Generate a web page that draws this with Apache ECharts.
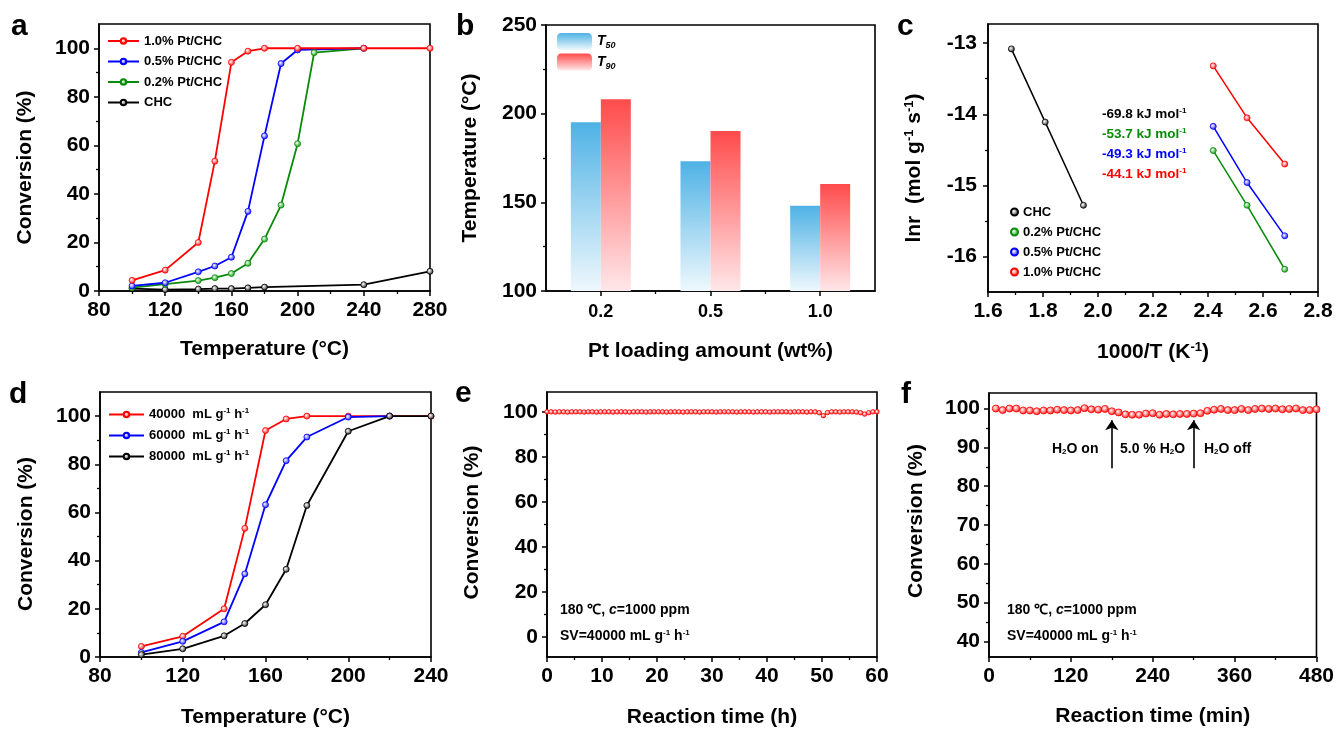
<!DOCTYPE html>
<html><head><meta charset="utf-8">
<script src="https://cdn.jsdelivr.net/npm/echarts@6/dist/echarts.min.js"></script>
<style>html,body{margin:0;padding:0;background:#fff}#chart{width:1337px;height:730px}</style>
</head><body><div id="chart"></div>
<script>
// ================= DATA =================
// (a) light-off curves
const aNames = ['1.0% Pt/CHC','0.5% Pt/CHC','0.2% Pt/CHC','CHC'];
const aTempRed = [100,120,140,150,160,170,180,200,240,280];
const aRed = [4.4,8.6,20,53.5,94.2,98.8,100,100,100,100];
const aTempBlue = [100,120,140,150,160,170,180,190,200,240];
const aBlue = [2.1,3.4,7.9,10.3,13.9,32.8,63.9,93.7,99.3,100];
const aTempGreen = [100,120,140,150,160,170,180,190,200,210,240];
const aGreen = [1.4,2.8,4.3,5.5,7.2,11.4,21.4,35.4,60.7,98.2,100];
const aTempCHC = [100,120,140,150,160,170,180,240,280];
const aCHC = [1.0,0.6,0.8,1.0,1.0,1.3,1.6,2.6,8.1];
const aXTicks = [80,120,160,200,240,280];
const aXMinor = [100,140,180,220,260];
const convTicks = [0,20,40,60,80,100];
const convMinor = [10,30,50,70,90];

// (b) T50 / T90
const bCategories = ['0.2','0.5','1.0'];
const bT50 = [195.1,173.1,148.1];
const bT90 = [208.1,190.2,160.3];
const bYTicks = [100,150,200,250];
const bYMinor = [125,175,225];

// (c) Arrhenius
const cNames = ['CHC ','0.2% Pt/CHC ','0.5% Pt/CHC ','1.0% Pt/CHC '];
const cXCHC = [1.685,1.808,1.947];
const cYCHC = [-13.08,-14.11,-15.28];
const cXPt = [2.419,2.542,2.679];
const cY02 = [-14.51,-15.28,-16.18];
const cY05 = [-14.17,-14.96,-15.71];
const cY10 = [-13.32,-14.05,-14.70];
const cEa = ['-69.8','-53.7','-49.3','-44.1'];
const cXTicks = [1.6,1.8,2.0,2.2,2.4,2.6,2.8];
const cXMinor = [1.7,1.9,2.1,2.3,2.5,2.7];
const cYTicks = [-16,-15,-14,-13];
const cYMinor = [-15.5,-14.5,-13.5];

// (d) space velocity
const dNames = ['40000','60000','80000'];
const dTemps = [100,120,140,150,160,170,180,200,220,240];
const d40000 = [4.4,8.6,20,53.4,94,98.8,100,100,100,100];
const dTemps60 = [100,120,140,150,160,170,180,200,220];
const d60000 = [1.9,6.5,14.6,34.5,63.2,81.5,91.3,99.6,100];
const d80000 = [1.0,3.4,8.8,13.9,21.7,36.4,62.9,93.7,100,100];
const dXTicks = [80,120,160,200,240];
const dXMinor = [100,140,180,220];

// (e) stability 60 h
const eTime = [0,0.75,1.5,2.25,3,3.75,4.5,5.25,6,6.75,7.5,8.25,9,9.75,10.5,11.25,12,12.75,13.5,14.25,
  15,15.75,16.5,17.25,18,18.75,19.5,20.25,21,21.75,22.5,23.25,24,24.75,25.5,26.25,27,27.75,28.5,29.25,
  30,30.75,31.5,32.25,33,33.75,34.5,35.25,36,36.75,37.5,38.25,39,39.75,40.5,41.25,42,42.75,43.5,44.25,
  45,45.75,46.5,47.25,48,48.75,49.5,50.25,51,51.75,52.5,53.25,54,54.75,55.5,56.25,57,57.75,58.5,59.25,60];
const eConv = [100,100,99.9,100,100,99.9,100,100,100,99.9,
  100,100,99.9,100,100,100,99.9,100,100,100,
  99.9,100,100,100,99.9,100,100,100,100,99.9,
  100,100,100,99.9,100,100,100,99.9,100,100,
  100,99.9,100,100,100,100,99.9,100,100,100,
  99.9,100,100,100,99.9,100,100,100,100,99.9,
  100,100,100,99.9,100,100,99.6,98.3,99.7,100,
  100,99.9,100,100,100,99.9,99.6,99.0,99.6,100,
  100];
const eXTicks = [0,10,20,30,40,50,60];
const eXMinor = [5,15,25,35,45,55];

// (f) water resistance
const fTime = [10,20,30,40,50,60,70,80,90,100,110,120,130,140,150,160,170,180,190,200,210,220,230,240,
  250,260,270,280,290,300,310,320,330,340,350,360,370,380,390,400,410,420,430,440,450,460,470,480];
const fConv = [100,99.6,100,100,99.5,99.5,99.3,99.5,99.5,99.7,99.6,99.5,99.6,100.1,99.8,99.7,99.9,99.3,99.0,98.5,98.4,98.4,98.7,98.8,
  98.4,98.6,98.5,98.6,98.6,98.7,98.8,99.4,99.7,99.9,99.6,99.6,99.9,99.6,99.9,100,99.9,100,99.8,99.9,100,99.6,99.6,99.8];
const fArrowTimes = [180,300];
const fArrowFrom = 84.6;
const fArrowTo = 97.0;
const fXTicks = [0,120,240,360,480];
const fXMinor = [60,180,300,420];
const fYTicks = [40,50,60,70,80,90,100];
const fYMinor = [45,55,65,75,85,95];

// ================= STYLE HELPERS =================
const FONT = '"Liberation Sans", Arial, sans-serif';
const BLACK = '#000';
const RED = '#ff0000', BLUE = '#0000ff', GREEN = '#0a8a0a';

function richOpt(size, color) {
  return {
    sup: {fontSize: Math.round(size*0.6), fontWeight:'bold', fontFamily:FONT, color: color||BLACK, verticalAlign:'top', lineHeight: size+2},
    sub: {fontSize: Math.round(size*0.6), fontWeight:'bold', fontFamily:FONT, color: color||BLACK, verticalAlign:'bottom', lineHeight: size+2},
    i: {fontSize: size, fontWeight:'bold', fontStyle:'italic', fontFamily:FONT, color: color||BLACK, lineHeight: size+2}
  };
}
function richG(size, color) {
  return {
    sup: {fontSize: Math.round(size*0.6), fontWeight:'bold', fontFamily:FONT, fill: color, verticalAlign:'top'},
    sub: {fontSize: Math.round(size*0.6), fontWeight:'bold', fontFamily:FONT, fill: color, verticalAlign:'bottom'},
    i: {fontSize: size, fontWeight:'bold', fontStyle:'italic', fontFamily:FONT, fill: color}
  };
}
function ball(color, light) {
  return {type:'radial', x:0.4, y:0.4, r:0.65,
    colorStops:[{offset:0,color:'#ffffff'},{offset:0.45,color:light},{offset:1,color:color}]};
}
const LIGHT = {'#ff0000':'#ff8a8a','#0000ff':'#8a8aff','#0a8a0a':'#7ccf7c','#000':'#999'};

const xAxes = [], yAxes = [];
function axisPair(list, dir, grid, o) {
  const pos = dir === 'x' ? 'bottom' : 'left';
  const main = {
    type:'value', gridIndex:grid, min:o.min, max:o.max, position:pos,
    axisLine:{show:true, onZero:false, lineStyle:{color:BLACK, width:1.6}},
    axisTick:{show:true, customValues:o.ticks, length:5, lineStyle:{color:BLACK, width:1.5}},
    axisLabel:{show:true, customValues:o.ticks, color:BLACK, fontSize:o.labelSize||21, fontWeight:'bold', fontFamily:FONT, margin:o.margin||9},
    splitLine:{show:false},
    name:o.name, nameLocation:'middle', nameGap:o.nameGap,
    nameTextStyle:{color:BLACK, fontSize:21, fontWeight:'bold', fontFamily:FONT, padding:o.namePad||0, rich:richOpt(21)}
  };
  if (o.fmt) main.axisLabel.formatter = o.fmt;
  list.push(main);
  const idx = list.length - 1;
  list.push({
    type:'value', gridIndex:grid, min:o.min, max:o.max, position:pos,
    axisLine:{show:false, onZero:false}, axisLabel:{show:false}, splitLine:{show:false},
    axisTick:{show:true, customValues:o.minor||[], length:3, lineStyle:{color:BLACK, width:1.3}}
  });
  return idx;
}
function pairs(xs, ys) { return xs.map((x,i)=>[x, ys[i]]); }
function lineS(name, xs, ys, color, xi, yi, size, lw) {
  return {type:'line', name, xAxisIndex:xi, yAxisIndex:yi, data:pairs(xs,ys),
    symbol:'circle', symbolSize:size, showSymbol:true, clip:false,
    lineStyle:{color, width:lw||1.8}, itemStyle:{color:ball(color, LIGHT[color]), borderColor:color, borderWidth:0.8}};
}

// ================= GRIDS =================
const gridBase = {show:true, borderColor:BLACK, borderWidth:1.6, backgroundColor:'transparent', containLabel:false};
const grids = [
  Object.assign({left:99, top:24, width:331, height:267}, gridBase),   // a
  Object.assign({left:546, top:25, width:329, height:266}, gridBase),  // b
  Object.assign({left:988, top:24, width:330, height:268}, gridBase),  // c
  Object.assign({left:100, top:392, width:331, height:265}, gridBase), // d
  Object.assign({left:547, top:392, width:330, height:265}, gridBase), // e
  Object.assign({left:989, top:393, width:329, height:264}, gridBase)  // f
];

// (a)
const axA = axisPair(xAxes,'x',0,{min:80,max:280,ticks:aXTicks,minor:aXMinor,name:'Temperature (°C)',nameGap:48});
const ayA = axisPair(yAxes,'y',0,{min:0,max:110,ticks:convTicks,minor:convMinor,name:'Conversion (%)',nameGap:63,namePad:[0,20,0,0]});
// (b) category x
xAxes.push({type:'category', gridIndex:1, data:bCategories, position:'bottom',
  axisLine:{show:true, onZero:false, lineStyle:{color:BLACK, width:1.6}},
  axisTick:{show:true, alignWithLabel:true, length:5, lineStyle:{color:BLACK, width:1.5}},
  axisLabel:{color:BLACK, fontSize:18, fontWeight:'bold', fontFamily:FONT, margin:12},
  name:'Pt loading amount (wt%)', nameLocation:'middle', nameGap:50,
  nameTextStyle:{color:BLACK, fontSize:21, fontWeight:'bold', fontFamily:FONT}});
const axB = xAxes.length-1;
xAxes.push({type:'value', gridIndex:1, min:0, max:3, position:'bottom', axisLine:{show:false,onZero:false}, axisLabel:{show:false}, splitLine:{show:false},
  axisTick:{show:true, customValues:[1,2], length:3, lineStyle:{color:BLACK, width:1.3}}});
const ayB = axisPair(yAxes,'y',1,{min:100,max:250,ticks:bYTicks,minor:bYMinor,name:'Temperature (°C)',nameGap:65});
// (c)
const axC = axisPair(xAxes,'x',2,{min:1.6,max:2.8,ticks:cXTicks,minor:cXMinor,name:'1000/T (K{sup|-1})',nameGap:49,fmt:v=>Number(v).toFixed(1)});
const ayC = axisPair(yAxes,'y',2,{min:-16.5,max:-12.73,ticks:cYTicks,minor:cYMinor,name:'lnr  (mol g{sup|-1} s{sup|-1})',nameGap:62,margin:11,namePad:[0,20,0,0]});
// (d)
const axD = axisPair(xAxes,'x',3,{min:80,max:240,ticks:dXTicks,minor:dXMinor,name:'Temperature (°C)',nameGap:50});
const ayD = axisPair(yAxes,'y',3,{min:0,max:110,ticks:convTicks,minor:convMinor,name:'Conversion (%)',nameGap:63,namePad:[0,19,0,0]});
// (e)
const axE = axisPair(xAxes,'x',4,{min:0,max:60,ticks:eXTicks,minor:eXMinor,name:'Reaction time (h)',nameGap:50});
const ayE = axisPair(yAxes,'y',4,{min:-8.8,max:108.8,ticks:convTicks,minor:convMinor,name:'Conversion (%)',nameGap:64,namePad:[0,0,0,4]});
// (f)
const axF = axisPair(xAxes,'x',5,{min:0,max:480,ticks:fXTicks,minor:fXMinor,name:'Reaction time (min)',nameGap:49});
const ayF = axisPair(yAxes,'y',5,{min:36,max:104,ticks:fYTicks,minor:fYMinor,name:'Conversion (%)',nameGap:62,namePad:[0,0,0,8]});

// ================= SERIES =================
const series = [];
// a
series.push(lineS(aNames[3], aTempCHC, aCHC, BLACK, axA, ayA, 6));
series.push(lineS(aNames[2], aTempGreen, aGreen, GREEN, axA, ayA, 6));
series.push(lineS(aNames[1], aTempBlue, aBlue, BLUE, axA, ayA, 6));
series.push(lineS(aNames[0], aTempRed, aRed, RED, axA, ayA, 6));
// b
function barGrad(top, bottom){ return {type:'linear',x:0,y:0,x2:0,y2:1,colorStops:[{offset:0,color:top},{offset:1,color:bottom}]}; }
series.push({type:'bar', name:'T50', xAxisIndex:axB, yAxisIndex:ayB, data:bT50, barWidth:30, barGap:'0%',
  itemStyle:{color:barGrad('#4fb2e5','#eff8fd')}});
series.push({type:'bar', name:'T90', xAxisIndex:axB, yAxisIndex:ayB, data:bT90, barWidth:30, barGap:'0%',
  itemStyle:{color:barGrad('#ff4b4b','#ffe7e9')}});
// c
series.push(lineS(cNames[0], cXCHC, cYCHC, BLACK, axC, ayC, 6, 1.5));
series.push(lineS(cNames[1], cXPt, cY02, GREEN, axC, ayC, 6, 1.5));
series.push(lineS(cNames[2], cXPt, cY05, BLUE, axC, ayC, 6, 1.5));
series.push(lineS(cNames[3], cXPt, cY10, RED, axC, ayC, 6, 1.5));
// d
series.push(lineS(dNames[0], dTemps, d40000, RED, axD, ayD, 6));
series.push(lineS(dNames[1], dTemps60, d60000, BLUE, axD, ayD, 6));
series.push(lineS(dNames[2], dTemps, d80000, BLACK, axD, ayD, 6));
// e
series.push(lineS('e', eTime, eConv, RED, axE, ayE, 4.5, 1.2));
// f
const fS = lineS('f', fTime, fConv, RED, axF, ayF, 7, 1.5);
fS.markLine = {silent:true, symbol:['none','arrow'], symbolSize:10, animation:false,
  label:{show:false}, lineStyle:{color:BLACK, width:1.6, type:'solid'},
  data: fArrowTimes.map(t => [{coord:[t, fArrowFrom]}, {coord:[t, fArrowTo]}])};
series.push(fS);

// ================= LEGENDS =================
const legendText = (size) => ({color:BLACK, fontSize:size, fontWeight:'bold', fontFamily:FONT, lineHeight:14, rich:richOpt(size)});
const legends = [
  {data:aNames, orient:'vertical', left:107, top:34, padding:0, itemWidth:31, itemHeight:7, itemGap:6.5, selectedMode:false, textStyle:legendText(13)},
  {data:['T50','T90'], orient:'vertical', left:557, top:33, padding:0, itemWidth:35, itemHeight:17, itemGap:3, selectedMode:false,
    formatter: n => '{i|T}{sub|' + n.slice(1) + '}',
    textStyle:{color:BLACK, fontSize:14, fontWeight:'bold', fontFamily:FONT,
      rich:{i:{fontSize:14, fontStyle:'italic', fontWeight:'bold', fontFamily:FONT, color:BLACK, lineHeight:18},
            sub:{fontSize:9, fontStyle:'italic', fontWeight:'bold', fontFamily:FONT, color:BLACK, verticalAlign:'bottom', lineHeight:18}}}},
  {data:cNames, orient:'vertical', left:1010, top:205, padding:0, icon:'circle', itemWidth:7, itemHeight:7, itemGap:6, selectedMode:false, textStyle:legendText(13)},
  {data:dNames, orient:'vertical', left:108, top:407, padding:0, itemWidth:35, itemHeight:7, itemGap:6, selectedMode:false,
    formatter: n => n + '  mL g{sup|-1} h{sup|-1}', textStyle:legendText(13)}
];

// ================= ANNOTATIONS =================
function gtext(x, y, text, size, color) {
  return {type:'text', x, y, silent:true, style:{text, fill:color||BLACK, fontSize:size, fontWeight:'bold', fontFamily:FONT,
    align:'left', verticalAlign:'middle', rich:richG(size, color||BLACK)}};
}
const cEaColors = [BLACK, GREEN, BLUE, RED];
const graphic = [
  gtext(11, 26.5, 'a', 30), gtext(456, 26.5, 'b', 30), gtext(897, 26.5, 'c', 30),
  gtext(9, 395, 'd', 30), gtext(455, 394, 'e', 30), gtext(901, 394.5, 'f', 30)
];
cEa.forEach((v,i) => graphic.push(gtext(1102, 114 + i*20, v + ' kJ mol{sup|-1}', 13.5, cEaColors[i])));
graphic.push(gtext(560, 610, '180 ℃, {i|c}=1000 ppm', 14));
graphic.push(gtext(560, 636, 'SV=40000 mL g{sup|-1} h{sup|-1}', 14));
graphic.push(gtext(1007, 610, '180 ℃, {i|c}=1000 ppm', 14));
graphic.push(gtext(1007, 636, 'SV=40000 mL g{sup|-1} h{sup|-1}', 14));
graphic.push(gtext(1052, 449, 'H{sub|2}O on', 14));
graphic.push(gtext(1120, 449, '5.0 % H{sub|2}O', 14));
graphic.push(gtext(1204, 449, 'H{sub|2}O off', 14));

const chart = echarts.init(document.getElementById('chart'), null, {renderer:'canvas'});
chart.setOption({
  animation:false, backgroundColor:'#fff',
  textStyle:{fontFamily:FONT},
  grid:grids, xAxis:xAxes, yAxis:yAxes, series, legend:legends, graphic
});
</script></body></html>
